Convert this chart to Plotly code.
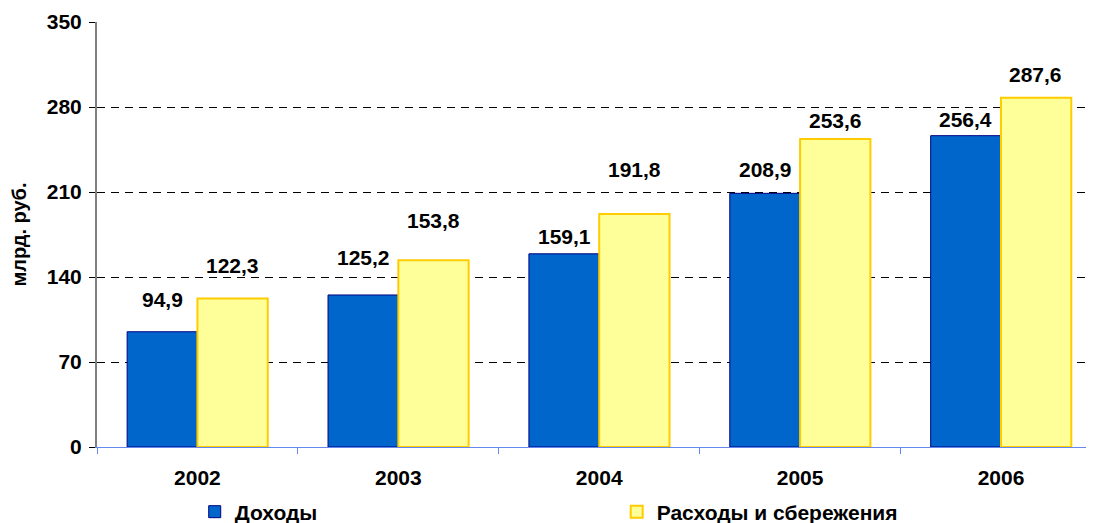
import plotly.graph_objects as go

years = ["2002", "2003", "2004", "2005", "2006"]
income = [94.9, 125.2, 159.1, 208.9, 256.4]
spend = [122.3, 153.8, 191.8, 253.6, 287.6]
y_ticks = [0, 70, 140, 210, 280, 350]
name_income = "Доходы"
name_spend = "Расходы и сбережения"

# label vertical offsets (px), style only
income_shift = [32, 37, 17, 24, 16]
spend_shift = [33, 40, 45, 19, 23]

FONT = "Liberation Sans, Arial, sans-serif"
BF = lambda s: dict(family=FONT, size=s, color="black", weight="bold")

fig = go.Figure()
fig.add_trace(go.Bar(
    x=years, y=income, name=name_income,
    marker=dict(color="#0066CC", line=dict(color="#000080", width=1)),
))
fig.add_trace(go.Bar(
    x=years, y=spend, name=name_spend,
    marker=dict(color="#FFFF99", line=dict(color="#FFCC00", width=2)),
))

def fmt(v):
    return f"{v:.1f}".replace(".", ",")

for i, yr in enumerate(years):
    # category index i corresponds to years[i]
    fig.add_annotation(x=i, y=income[i], text=fmt(income[i]),
                       showarrow=False, xshift=-35, yshift=income_shift[i],
                       font=BF(21))
    fig.add_annotation(x=i, y=spend[i], text=fmt(spend[i]),
                       showarrow=False, xshift=35, yshift=spend_shift[i],
                       font=BF(21))

# page body has an 8px default margin, so figure is sized to compensate;
# the original plot area runs past the right edge of the picture
fig.update_layout(
    width=1086, height=515,
    margin=dict(l=89, r=0, t=14, b=76, autoexpand=False),
    paper_bgcolor="white", plot_bgcolor="white",
    barmode="group", bargap=0.3, bargroupgap=0,
    font=BF(21),
    showlegend=True,
    legend=dict(orientation="h", x=0.098, xanchor="left",
                y=-0.153, yref="paper", yanchor="middle",
                entrywidth=377, entrywidthmode="pixels", itemwidth=30,
                bgcolor="rgba(0,0,0,0)",
                font=BF(21), traceorder="normal"),
)
fig.update_xaxes(
    type="category", range=[-0.5, 4.463],
    showline=True, linecolor="#6688EE", linewidth=1,
    ticks="outside", tickson="boundaries", ticklen=6, tickcolor="#6688EE",
    tickfont=BF(21), ticklabelstandoff=12, showgrid=False, automargin=False,
)
fig.update_yaxes(
    range=[0, 350], tickvals=y_ticks, showline=True, linecolor="#808080", linewidth=2,
    ticks="outside", ticklen=6, tickcolor="black",
    tickfont=BF(21), automargin=False,
    showgrid=True, gridcolor="black", gridwidth=1, griddash="8px,6px",
    zeroline=False, ticklabelstandoff=3,
    title=dict(text="млрд. руб.", font=BF(20), standoff=17),
)

fig.write_html("out.html")
